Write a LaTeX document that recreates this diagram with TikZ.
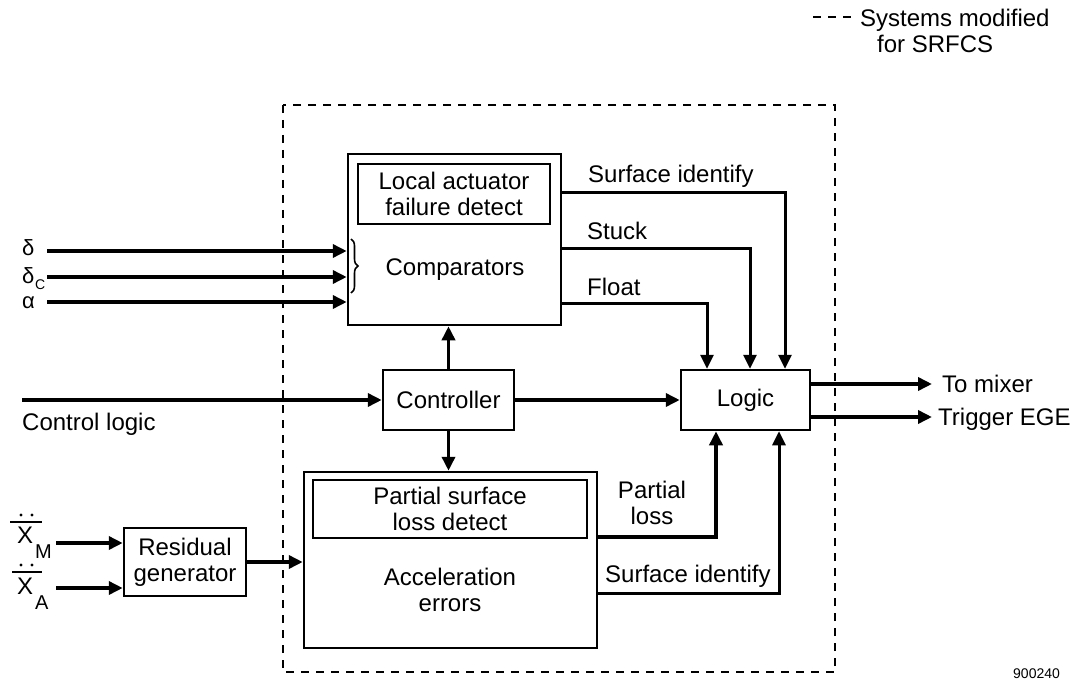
\documentclass[tikz,border=0pt]{standalone}
\usepackage{fontspec}
\setmainfont{Liberation Sans}
\usetikzlibrary{arrows.meta,decorations.pathreplacing}
\begin{document}
\begin{tikzpicture}[x=1pt,y=-1pt,
  every node/.style={font=\fontsize{24}{26}\selectfont, inner sep=0pt},
  box/.style={draw, line width=2.5pt, rectangle, align=center},
  arr/.style={line width=3.5pt, -{Triangle[length=14pt,width=13pt]}},
  dbox/.style={line width=2.2pt, dash pattern=on 8pt off 7pt},
  lbl/.style={anchor=base west},
  greek/.style={anchor=base west, font=\fontsize{22}{24}\selectfont},
  subs/.style={anchor=base west, font=\fontsize{20}{22}\selectfont},
]
\useasboundingbox (0,0) rectangle (1089,679);

% legend
\coordinate (lga) at (813,17);
\coordinate (lgb) at (852,17);
\draw[dbox] (lga) -- (lgb);
\node[lbl] (leg1) at (860,27) {Systems modified};
\node[lbl] (leg2) at (877,53) {for SRFCS};

% dashed system boundary
\draw[dbox] (283,105) rectangle (835,672);

% boxes
\node[box, minimum width=213pt, minimum height=171pt] (comp) at (454.5,239.5) {};
\node[box, minimum width=192pt, minimum height=60pt] (compin) at (454,194) {Local actuator\\failure detect};
\node (comptxt) at (455,275) [anchor=base] {Comparators};

\node[box, minimum width=131pt, minimum height=60pt] (ctrl) at (448.5,400) {Controller};
\node[box, minimum width=129pt, minimum height=60pt] (logic) at (745.5,400) {Logic};

\node[box, minimum width=293pt, minimum height=176pt] (acc) at (450.5,560) {};
\node[box, minimum width=274pt, minimum height=58pt] (accin) at (450,509) {Partial surface\\loss detect};
\node[align=center] (acctxt) at (450,590) {Acceleration\\errors};

\node[box, minimum width=122pt, minimum height=68pt] (res) at (185,562) {Residual\\generator};

% inputs to comparators
\node[greek] (d1) at (22,255) {δ};
\node[greek] (d2) at (22,283) {δ};
\node[anchor=base west, font=\fontsize{14}{16}\selectfont] (d2s) at (35,289) {C};
\node[greek] (al) at (22,308) {α};
\coordinate (i1) at (47,251);
\coordinate (i2) at (47,277);
\coordinate (i3) at (47,302);
\draw[arr] (i1) -- (i1 -| comp.west);
\draw[arr] (i2) -- (i2 -| comp.west);
\draw[arr] (i3) -- (i3 -| comp.west);
\draw[line width=1.6pt, decorate, decoration={brace, amplitude=7pt}] (351,239) -- (351,293);

% comparators outputs to logic
\coordinate (o1) at (561,193);
\coordinate (o2) at (561,248);
\coordinate (o3) at (561,303);
\draw[arr, line width=3pt] (o1 -| comp.east) -| ([xshift=39.5pt]logic.north);
\draw[arr, line width=3pt] (o2 -| comp.east) -| ([xshift=4.5pt]logic.north);
\draw[arr, line width=3pt] (o3 -| comp.east) -| ([xshift=-38.5pt]logic.north);
\node[lbl] (l1) at (588,183) {Surface identify};
\node[lbl] (l2) at (587,240) {Stuck};
\node[lbl] (l3) at (587,295) {Float};

% controller connections
\coordinate (cl) at (22,400);
\draw[arr] (cl) -- (ctrl.west);
\node[lbl] (cltxt) at (22,430) {Control logic};
\draw[arr] (ctrl.north) -- (ctrl.north |- comp.south);
\draw[arr] (ctrl.south) -- (ctrl.south |- acc.north);
\draw[arr] (ctrl.east) -- (logic.west);

% acceleration outputs to logic
\coordinate (p1) at (597,537);
\coordinate (p2) at (597,593);
\draw[arr] (p1 -| acc.east) -| ([xshift=-29.5pt]logic.south);
\draw[arr, line width=3pt] (p2 -| acc.east) -| ([xshift=33.5pt]logic.south);
\node[align=center] (pl) at (652,503) {Partial\\loss};
\node[lbl] (l4) at (605,582) {Surface identify};

% logic outputs
\coordinate (m1) at (932,384);
\coordinate (m2) at (932,417);
\draw[arr] (m1 -| logic.east) -- (m1);
\draw[arr] (m2 -| logic.east) -- (m2);
\node[lbl] (tm) at (942,392) {To mixer};
\node[lbl] (te) at (938,425) {Trigger EGE};

% residual generator
\node[anchor=base west] (xm) at (17,543) {X};
\node[subs] (xms) at (35,558) {M};
\node[anchor=base west] (xa) at (17,594) {X};
\node[subs] (xas) at (35,609) {A};
\draw[line width=1.5pt] (10,522) -- (42,522);
\fill (21,515) circle (1.6pt) (32,515) circle (1.6pt);
\draw[line width=1.5pt] (12,572) -- (42,572);
\fill (21,565) circle (1.6pt) (32,565) circle (1.6pt);
\coordinate (r1) at (56,543);
\coordinate (r2) at (56,588);
\draw[arr] (r1) -- (r1 -| res.west);
\draw[arr] (r2) -- (r2 -| res.west);
\coordinate (r3) at (246,562);
\draw[arr] (r3 -| res.east) -- (r3 -| acc.west);

% figure number
\node[anchor=base west, font=\fontsize{14}{16}\selectfont] (fig) at (1013,678) {900240};
\end{tikzpicture}
\end{document}
